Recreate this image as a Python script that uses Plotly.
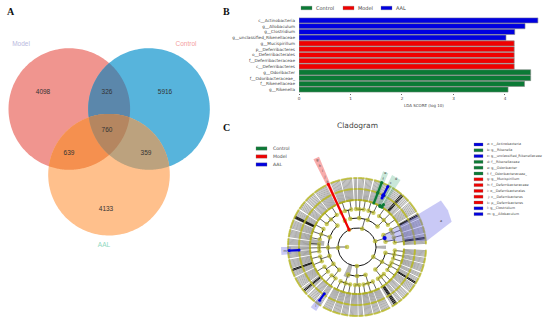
import numpy as np
import plotly.graph_objects as go

W, H = 550, 322

# --- Venn ---
set_names = ["Model", "Control", "AAL"]
set_cx = [69.3, 149, 109]
set_cy = [109, 109, 174.7]
set_r = 60.8
set_colors = ["#F0958F", "#57B4DC", "#FFC08C"]
set_label_colors = ["#B9B9DE", "#F4A0A0", "#8FD8C0"]
set_label_x = [21, 186, 104]
set_label_y = [44, 44, 245]
overlap_sets = [(0, 1), (0, 2), (1, 2), (0, 1, 2)]
overlap_colors = ["#5B87AB", "#F5904F", "#BCA27E", "#B58660"]
venn_values = ["4098", "326", "5916", "760", "639", "359", "4133"]
venn_x = [43, 107, 165, 107, 69, 146, 106]
venn_y = [92, 92, 92, 130, 153, 153, 209]

# --- LDA bars ---
lda_taxa = ["c__Actinobacteria", "g__Allobaculum", "g__Clostridium", "g__unclassified_Rikenellaceae",
            "g__Mucispirillum", "p__Deferribacteres", "o__Deferribacterales", "f__Deferribacteraceae",
            "c__Deferribacteres", "g__Odoribacter", "f__Odoribacteraceae_", "f__Rikenellaceae", "g__Rikenella"]
lda_scores = [4.64, 4.39, 4.19, 4.02, 4.18, 4.18, 4.18, 4.18, 4.18, 4.50, 4.50, 4.38, 4.06]
lda_groups = ["AAL"] * 4 + ["Model"] * 5 + ["Control"] * 4
lda_ticks = [0, 1, 2, 3, 4]
groups = ["Control", "Model", "AAL"]
group_colors = {"Control": "#0B7A35", "Model": "#F00000", "AAL": "#0000E0"}

# --- Cladogram ---
key_labels = ["a: c__Actinobacteria", "b: g__Rikenella", "c: g__unclassified_Rikenellaceae", "d: f__Rikenellaceae",
              "e: g__Odoribacter", "f: f__Odoribacteraceae_", "g: g__Mucispirillum", "h: f__Deferribacteraceae",
              "i: o__Deferribacterales", "j: c__Deferribacteres", "k: p__Deferribacteres", "l: g__Clostridium",
              "m: g__Allobaculum"]
key_groups = ["AAL", "Control", "AAL", "Control", "Control", "Control", "Model", "Model", "Model", "Model", "Model",
              "AAL", "AAL"]

ring_r = [10, 19, 29, 38, 47, 58, 69]
phylum_start = [3, 31, 114.6, 117, 241, 301]
phylum_end = [29, 112, 114.6, 238, 298, 357]
# phylum > class > order (number of families, each a family-genus-species chain)
phylum_trees = [
    [[9, 6], [6, 5]],
    [[10, 7, 9], [8, 6], [6, 5, 3], [9, 8]],
    [[1]],
    [[12, 10, 8], [9, 8, 7], [6, 4, 6], [8, 7], [10, 7], [8, 6]],
    [[8, 7, 6], [7, 4], [7, 6, 8]],
    [[6, 4, 7], [8, 6, 4], [7, 5, 6]],
]
dark_angles = [48, 49, 50, 27, 28, 153.5, 154.3, 155, 199, 200, 219, 220, 303, 304, 305, 328, 329, 7, 8]
band_start = [-4, 245, 170]
band_end = [3, 256, 178]
band_r0 = [19, 19, 33]
band_r1 = [29, 32, 47]

clade_angle = [114.6, 69, 69, 63, 58, 183, 235]
clade_r0 = [19, 47, 58, 55, 47, 58, 57]
clade_r1 = [69, 58, 69, 68, 50, 68, 65]
clade_group = ["Model", "Control", "Control", "AAL", "Control", "AAL", "AAL"]
clade_dot_angle = [18, 60.5, 63]
clade_dot_r = [29, 47, 58]
clade_dot_group = ["AAL", "Control", "AAL"]

wedge_theta = [[24, 29, 22, 15, 5, 12], [114.4, 112.8, 116.4, 114.8], [67, 67, 71, 71], [57, 57, 64, 64],
               [180, 180, 186, 186], [232.5, 232.5, 237.5, 237.5]]
wedge_r = [[29, 96, 98, 98, 70, 29], [20, 98, 98, 20], [49, 80, 80, 49], [48, 80, 80, 48],
           [66, 76, 76, 66], [65, 76, 76, 65]]
wedge_colors = ["rgba(100,100,230,0.35)", "rgba(240,70,70,0.45)", "rgba(60,170,120,0.28)", "rgba(60,170,120,0.28)",
                "rgba(100,100,230,0.35)", "rgba(100,100,230,0.35)"]
letter_text = ["a", "g", "h", "i", "j", "k", "e", "f", "d", "c", "m", "l"]
letter_theta = [17, 114.6, 114.6, 114.6, 114.6, 114.6, 69, 69, 60, 62, 183, 235]
letter_r = [88, 95, 89, 83, 77, 71, 79, 73, 78, 72, 72, 72]

OLIVE = "#B8B822"
fig = go.Figure()
axp = dict(visible=False, fixedrange=True)


def polar_xy(theta, r):
    a = np.radians(np.asarray(theta, dtype=float))
    return np.asarray(r) * np.cos(a), np.asarray(r) * np.sin(a)


# Venn
for name, cx, cy, col in zip(set_names, set_cx, set_cy, set_colors):
    t = np.linspace(0, 2 * np.pi, 200)
    fig.add_trace(go.Scatter(x=cx + set_r * np.cos(t), y=cy + set_r * np.sin(t), mode="none", fill="toself",
                             fillcolor=col, name=name))
for members, col in zip(overlap_sets, overlap_colors):
    px0 = np.mean([set_cx[i] for i in members])
    py0 = np.mean([set_cy[i] for i in members])
    t = np.linspace(0, 2 * np.pi, 360)
    dist = []
    for i in members:
        ox, oy = px0 - set_cx[i], py0 - set_cy[i]
        b = ox * np.cos(t) + oy * np.sin(t)
        dist.append(-b + np.sqrt(b ** 2 - (ox ** 2 + oy ** 2) + set_r ** 2))
    d = np.min(dist, axis=0)
    fig.add_trace(go.Scatter(x=px0 + d * np.cos(t), y=py0 + d * np.sin(t), mode="none", fill="toself", fillcolor=col))
fig.add_trace(go.Scatter(x=venn_x, y=venn_y, mode="text", text=venn_values,
                         textfont=dict(size=6.5, color="#333333", family="Liberation Sans")))
for name, x, y, col in zip(set_names, set_label_x, set_label_y, set_label_colors):
    fig.add_trace(go.Scatter(x=[x], y=[y], mode="text", text=[name],
                             textfont=dict(size=6.5, color=col, family="Liberation Sans")))

# LDA bars
for g in groups[::-1]:
    idx = [i for i, v in enumerate(lda_groups) if v == g]
    fig.add_trace(go.Bar(x=[lda_scores[i] for i in idx], y=[lda_taxa[i] for i in idx], orientation="h", name=g,
                         marker=dict(color=group_colors[g], line=dict(color="#8A8A8A", width=0.6)),
                         xaxis="x2", yaxis="y2"))


# Cladogram tree
def build_phylum(tree, start, end):
    dots, thin, thick, arcs = [], [], [], []
    slot = [0.0]
    last = [0.0]

    def walk(node, level):
        if level == 4:
            a = slot[0]
            last[0] = a
            slot[0] += 1
            thin.append((a, ring_r[4], ring_r[5]))
            thin.append((a, ring_r[5], ring_r[6]))
            dots.extend([(a, 4), (a, 5), (a, 6)])
            return a
        kids_src = [None] * node if isinstance(node, int) else node
        kids = [walk(c, level + 1) for c in kids_src]
        slot[0] += 0.8 if level == 3 else 0.3
        a = (kids[0] + kids[-1]) / 2
        arcs.append((kids[0], kids[-1], ring_r[level + 1]))
        thick.append((a, ring_r[level], ring_r[level + 1]))
        dots.append((a, level))
        return a

    walk(tree, 1)
    total = max(last[0], 1)
    conv = lambda s: start + s / total * (end - start)
    return ([(conv(a), l) for a, l in dots], [(conv(a), p, q) for a, p, q in thin],
            [(conv(a), p, q) for a, p, q in thick], [(conv(a), conv(b), r) for a, b, r in arcs])


all_dots, all_thin, all_thick, all_arcs = [], [], [], []
for tree, s, e in zip(phylum_trees, phylum_start, phylum_end):
    d, tn, tk, ar = build_phylum(tree, s, e)
    all_dots += d
    all_thin += tn
    all_thick += tk
    all_arcs += ar
all_thick.append((180, ring_r[0], ring_r[1]))
all_arcs.append((0, 360, ring_r[1]))
all_dots.append((180, 0))


def spokes_trace(items, color, width):
    xs, ys = [], []
    for a, p, q in items:
        x, y = polar_xy([a, a], [p, q])
        xs += [x[0], x[1], None]
        ys += [y[0], y[1], None]
    return go.Scatter(x=xs, y=ys, mode="lines", line=dict(color=color, width=width), xaxis="x3", yaxis="y3")


for s, e, p, q in zip(band_start, band_end, band_r0, band_r1):
    th = list(np.linspace(s, e, 8))
    x, y = polar_xy(th + th[::-1], [p] * 8 + [q] * 8)
    fig.add_trace(go.Scatter(x=x, y=y, mode="none", fill="toself", fillcolor="#B4B4B4", xaxis="x3", yaxis="y3"))
fig.add_trace(spokes_trace(all_thin, "#5A5A5A", 0.5))
fig.add_trace(spokes_trace(all_thick, "#222222", 0.7))
fig.add_trace(spokes_trace([(a, ring_r[4], ring_r[6]) for a in dark_angles], "#000000", 0.9))
xs, ys = [], []
for a, b, r in all_arcs:
    th = np.linspace(a, b, max(int(abs(b - a)) + 2, 2))
    x, y = polar_xy(th, np.full(len(th), r))
    xs += list(x) + [None]
    ys += list(y) + [None]
fig.add_trace(go.Scatter(x=xs, y=ys, mode="lines", line=dict(color="#111111", width=1), xaxis="x3", yaxis="y3"))

dot_sizes = [4.6, 4.6, 4.6, 4.4, 2.2, 2.1, 2.1]
x, y = polar_xy([a for a, l in all_dots], [ring_r[l] for a, l in all_dots])
fig.add_trace(go.Scatter(x=x, y=y, mode="markers", xaxis="x3", yaxis="y3",
                         marker=dict(color=OLIVE, size=[dot_sizes[l] for a, l in all_dots], line=dict(width=0))))

for th, r, col in zip(wedge_theta, wedge_r, wedge_colors):
    x, y = polar_xy(th, r)
    fig.add_trace(go.Scatter(x=x, y=y, mode="none", fill="toself", fillcolor=col, xaxis="x3", yaxis="y3"))
for a, p, q, g in zip(clade_angle, clade_r0, clade_r1, clade_group):
    x, y = polar_xy([a, a], [p, q])
    fig.add_trace(go.Scatter(x=x, y=y, mode="lines+markers", xaxis="x3", yaxis="y3",
                             line=dict(color=group_colors[g], width=2.2),
                             marker=dict(color=group_colors[g], size=3)))
x, y = polar_xy(clade_dot_angle, clade_dot_r)
fig.add_trace(go.Scatter(x=x, y=y, mode="markers", xaxis="x3", yaxis="y3",
                         marker=dict(color=[group_colors[g] for g in clade_dot_group], size=4.2)))
x, y = polar_xy(letter_theta, letter_r)
fig.add_trace(go.Scatter(x=x, y=y, mode="text", text=letter_text, xaxis="x3", yaxis="y3",
                         textfont=dict(size=3.5, color="#444444", family="DejaVu Sans")))

# layout helpers in figure pixels
px = lambda v: v / W
py = lambda v: 1 - v / H
shapes, notes = [], []


def patch(x0, x1, yc, h, color):
    shapes.append(dict(type="rect", xref="paper", yref="paper", x0=px(x0), x1=px(x1), y0=py(yc - h / 2),
                       y1=py(yc + h / 2), fillcolor=color, line=dict(color="#777777", width=0.3)))


def note(text, x, y, size, color="#444444", family="DejaVu Sans", anchor="left"):
    notes.append(dict(text=text, xref="paper", yref="paper", x=px(x), y=py(y), showarrow=False, xanchor=anchor,
                      yanchor="middle", align=anchor, font=dict(size=size, color=color, family=family),
                      borderpad=0))


for t, x, y in [("A", 11, 12), ("B", 226, 11), ("C", 226, 127)]:
    note("<b>" + t + "</b>", x, y, 10, "#111111", "Liberation Serif", "center")
for g, x0, tx in zip(groups, [301, 343, 381], [315, 357, 395]):
    patch(x0, x0 + 11, 8, 3.6, group_colors[g])
    note(g, tx, 8, 5)
note("LDA SCORE (log 10)", 424, 105.5, 4, anchor="center")
for g, y in zip(groups, [148.5, 156.5, 164.5]):
    patch(256, 267, y, 3.4, group_colors[g])
    note(g, 272, y, 4.6)
note("Cladogram", 357, 125, 7.5, anchor="center")
for i, (lab, g) in enumerate(zip(key_labels, key_groups)):
    y = 144.5 + i * 5.8
    patch(474, 483, y, 3, group_colors[g])
    note(lab, 486, y, 3.4)

fig.update_layout(
    width=W, height=H, margin=dict(l=0, r=0, t=0, b=0), paper_bgcolor="white", plot_bgcolor="rgba(0,0,0,0)",
    showlegend=False, barmode="overlay", bargap=0.1, shapes=shapes, annotations=notes, hovermode=False,
    xaxis=dict(domain=[0, 1], range=[0, W], **axp),
    yaxis=dict(domain=[0, 1], range=[H, 0], **axp),
    xaxis2=dict(domain=[px(299), px(541)], range=[0, 4.7], anchor="y2", tickvals=lda_ticks, showgrid=False,
                zeroline=False, ticks="outside", ticklen=1.5, tickwidth=0.5, tickcolor="#666666",
                tickfont=dict(size=4.2, color="#444444", family="DejaVu Sans"), fixedrange=True),
    yaxis2=dict(domain=[py(92.5), py(17.5)], anchor="x2", categoryorder="array", categoryarray=lda_taxa,
                autorange="reversed", showgrid=False, ticks="", ticklabelstandoff=3,
                tickfont=dict(size=4.2, color="#444444", family="DejaVu Sans"), fixedrange=True),
    xaxis3=dict(domain=[px(252), px(462)], range=[-105, 105], anchor="y3", **axp),
    yaxis3=dict(domain=[py(322), py(142)], range=[-75, 105], anchor="x3", **axp),
)
fig.write_html("out.html", config={"displayModeBar": False}, post_script="document.body.style.margin='0';")
